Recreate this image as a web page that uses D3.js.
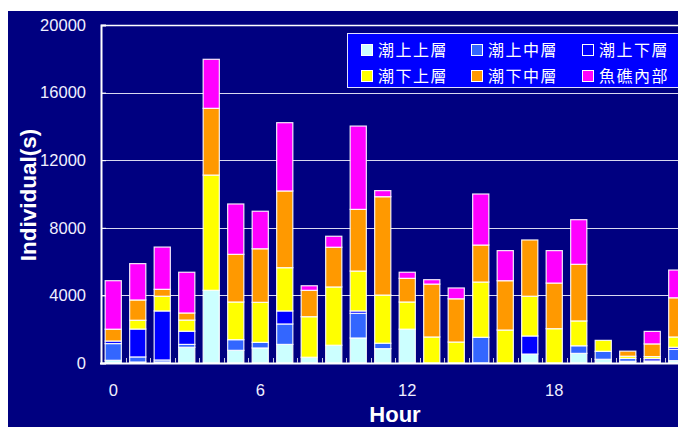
<!DOCTYPE html>
<html>
<head>
<meta charset="utf-8">
<script src="https://cdn.jsdelivr.net/npm/d3@7"></script>
<style>
  html, body { margin: 0; padding: 0; background: #ffffff; }
  svg { display: block; }
</style>
</head>
<body>
<svg id="chart" width="678" height="427"></svg>
<script>
// Hourly counts of individuals by location layer
const hours = d3.range(24);
const seriesNames = ["潮上上層", "潮上中層", "潮上下層", "潮下上層", "潮下中層", "魚礁內部"];
const seriesColors = ["#ccffff", "#3366ff", "#0000ff", "#ffff00", "#ff9900", "#ff00ff"];

const upperTop    = [160, 60, 60, 930, 4300, 750, 890, 1100, 340, 1050, 1480, 850, 2000, 0, 0, 0, 0, 530, 0, 570, 220, 100, 60, 140];
const upperMid    = [990, 300, 120, 170, 0, 630, 330, 1210, 0, 0, 1460, 320, 0, 0, 0, 1520, 0, 0, 0, 450, 470, 170, 60, 670];
const upperBottom = [150, 1650, 2900, 780, 0, 0, 0, 770, 0, 0, 140, 0, 0, 0, 0, 0, 0, 1070, 0, 0, 0, 0, 140, 120];
const lowerTop    = [0, 520, 870, 660, 6820, 2230, 2370, 2560, 2400, 3450, 2360, 2850, 1610, 1540, 1240, 3270, 1950, 2350, 2030, 1470, 650, 130, 120, 610];
const lowerMid    = [700, 1200, 410, 420, 3950, 2820, 3170, 4540, 1560, 2350, 3650, 5820, 1400, 3130, 2560, 2190, 2920, 3330, 2700, 3350, 0, 300, 750, 2320];
const reefInside  = [2870, 2150, 2500, 2410, 2900, 2980, 2220, 4040, 270, 650, 4930, 360, 360, 260, 640, 3020, 1780, 0, 1920, 2640, 0, 0, 740, 1640];

const yTicks = [0, 4000, 8000, 12000, 16000, 20000];
const xTickLabels = [0, 6, 12, 18];

const seriesValues = [upperTop, upperMid, upperBottom, lowerTop, lowerMid, reefInside];
const rows = hours.map((h, i) => {
  const r = { hour: h };
  seriesNames.forEach((n, k) => { r[n] = seriesValues[k][i]; });
  return r;
});

const svg = d3.select("#chart");
const W = 678, H = 427;
const plot = { left: 101, top: 25, right: 689, bottom: 363 };

// background panel
svg.append("rect").attr("x", 8).attr("y", 11).attr("width", W - 8).attr("height", H - 11).attr("fill", "#000080");

const x = d3.scaleBand().domain(hours).range([plot.left, plot.right]).paddingInner(0.34).paddingOuter(0.17);
const y = d3.scaleLinear().domain([0, 20000]).range([plot.bottom, plot.top]);

// gridlines
svg.append("g").selectAll("line").data(yTicks.filter(t => t > 0 && t < 20000)).join("line")
  .attr("x1", plot.left).attr("x2", W)
  .attr("y1", d => Math.round(y(d)) + 0.5).attr("y2", d => Math.round(y(d)) + 0.5)
  .attr("stroke", "#d8d8f0").attr("stroke-width", 1);

// plot top border
svg.append("line").attr("x1", plot.left).attr("x2", W).attr("y1", plot.top + 0.5).attr("y2", plot.top + 0.5)
  .attr("stroke", "#ffffff").attr("stroke-width", 1.5);

// stacked bars
const stack = d3.stack().keys(seriesNames);
const layers = stack(rows);
svg.append("g").selectAll("g").data(layers).join("g")
  .attr("fill", (d, i) => seriesColors[i])
  .selectAll("rect").data(d => d.filter(s => s[1] - s[0] > 0)).join("rect")
  .attr("x", d => x(d.data.hour))
  .attr("width", x.bandwidth())
  .attr("y", d => y(d[1]))
  .attr("height", d => y(d[0]) - y(d[1]))
  .attr("stroke", "#ffffff").attr("stroke-opacity", 0.9).attr("stroke-width", 1.2);

// y axis
const yAxis = d3.axisLeft(y).tickValues(yTicks).tickSize(-5).tickPadding(15).tickFormat(d3.format("d"));
const gy = svg.append("g").attr("transform", `translate(${plot.left},0)`).call(yAxis);
gy.select(".domain").attr("stroke", "#ffffff").attr("stroke-width", 2);
gy.selectAll(".tick line").attr("stroke", "#ffffff");
gy.selectAll(".tick text").attr("fill", "#f0f0ff").style("font-family", "'Liberation Sans', Arial, sans-serif").style("font-size", "16.5px");

// x axis baseline and band-edge ticks
svg.append("line").attr("x1", plot.left - 1).attr("x2", W).attr("y1", plot.bottom + 0.5).attr("y2", plot.bottom + 0.5)
  .attr("stroke", "#ffffff").attr("stroke-width", 2);
const step = x.step();
svg.append("g").selectAll("line").data(hours.slice(1)).join("line")
  .attr("x1", d => Math.round(x(d) - (step - x.bandwidth()) / 2) + 0.5)
  .attr("x2", d => Math.round(x(d) - (step - x.bandwidth()) / 2) + 0.5)
  .attr("y1", plot.bottom).attr("y2", plot.bottom - 5)
  .attr("stroke", "#c8c8e0").attr("stroke-width", 1);

svg.append("g").selectAll("text").data(xTickLabels).join("text")
  .attr("x", d => x(d) + x.bandwidth() / 2).attr("y", 396)
  .attr("text-anchor", "middle")
  .attr("fill", "#f0f0ff").style("font-family", "'Liberation Sans', Arial, sans-serif").style("font-size", "16.5px")
  .text(d => d);

// axis titles
svg.append("text").attr("x", 395).attr("y", 422).attr("text-anchor", "middle")
  .attr("fill", "#ffffff").style("font-family", "'Liberation Sans', Arial, sans-serif")
  .style("font-size", "22px").style("font-weight", "bold").text("Hour");
svg.append("text").attr("transform", "translate(36,195) rotate(-90)").attr("text-anchor", "middle")
  .attr("fill", "#ffffff").style("font-family", "'Liberation Sans', Arial, sans-serif")
  .style("font-size", "22.5px").style("font-weight", "bold").text("Individual(s)");

// legend
const lg = svg.append("g");
lg.append("rect").attr("x", 347.5).attr("y", 33.5).attr("width", 340).attr("height", 54)
  .attr("fill", "#0000ff").attr("stroke", "#e0e0ff").attr("stroke-width", 1);
const colX = [361, 471, 582];
const rowY = [50, 76];
seriesNames.forEach((n, i) => {
  const cx = colX[i % 3], cy = rowY[Math.floor(i / 3)];
  lg.append("rect").attr("x", cx + 0.5).attr("y", cy - 5.5).attr("width", 11).attr("height", 11)
    .attr("fill", seriesColors[i]).attr("stroke", "#ffffff").attr("stroke-width", 1);
  lg.append("text").attr("x", cx + 17).attr("y", cy).attr("dy", "0.36em")
    .attr("fill", "#ffffff").style("font-family", "'Noto Sans CJK TC', 'Noto Sans CJK JP', sans-serif")
    .style("font-size", "16px").style("letter-spacing", "1.5px").text(n);
});
</script>
</body>
</html>
